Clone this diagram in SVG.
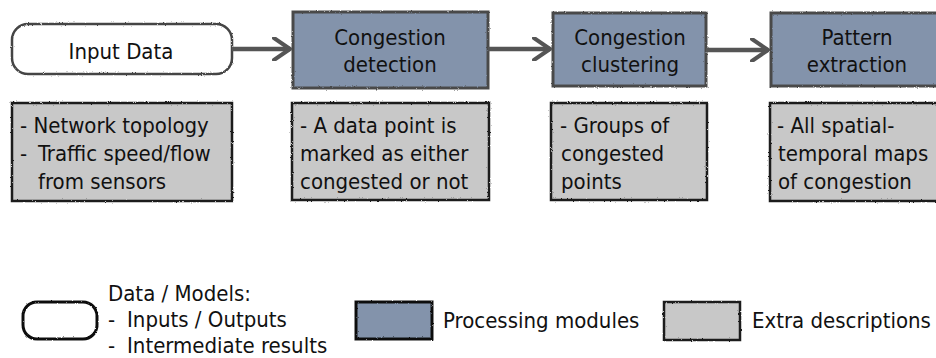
<svg xmlns="http://www.w3.org/2000/svg" width="936" height="358" viewBox="0 0 936 358">
  <defs>
    <!-- slight hand-drawn wobble for outlines -->
    <filter id="rough" x="-5%" y="-5%" width="110%" height="110%">
      <feTurbulence type="fractalNoise" baseFrequency="0.8" numOctaves="2" seed="3" result="n"/>
      <feDisplacementMap in="SourceGraphic" in2="n" scale="2.2" xChannelSelector="R" yChannelSelector="G"/>
    </filter>
    <marker id="chev" viewBox="0 0 20 24" refX="18" refY="12" markerWidth="20" markerHeight="24" markerUnits="userSpaceOnUse" orient="auto">
      <path d="M2,1 L18,12 L2,23" fill="none" stroke="#555" stroke-width="4" stroke-linecap="round" stroke-linejoin="round"/>
    </marker>
  </defs>
  <style>
    text { font-family: "DejaVu Sans Condensed", "DejaVu Sans", Verdana, sans-serif; font-stretch: condensed; font-size: 22px; fill: #111; }
    .c { text-anchor: middle; }
    .data { fill: #fff; stroke: #444; stroke-width: 2.5; }
    .proc { fill: #8393ab; stroke: #4a4a4a; stroke-width: 3; }
    .desc { fill: #c8c8c8; stroke: #1a1a1a; stroke-width: 2.5; }
    .lg-data { fill: #fff; stroke: #111; stroke-width: 3; }
    .lg-proc { fill: #8393ab; stroke: #111; stroke-width: 3; }
    .link { fill: none; stroke: #555; stroke-width: 4.5; marker-end: url(#chev); }
  </style>

  <rect width="936" height="358" fill="#fff"/>

  <!-- pipeline stages -->
  <g id="input-data">
    <rect class="data" x="12" y="24" width="220" height="50" rx="16" filter="url(#rough)"/>
    <text class="c" x="121" y="59">Input Data</text>
  </g>
  <g id="congestion-detection">
    <rect class="proc" x="293" y="12" width="195" height="76" filter="url(#rough)"/>
    <text class="c" x="390" y="45">Congestion</text>
    <text class="c" x="390" y="72">detection</text>
  </g>
  <g id="congestion-clustering">
    <rect class="proc" x="553" y="13" width="153" height="73" filter="url(#rough)"/>
    <text class="c" x="630" y="45">Congestion</text>
    <text class="c" x="630" y="72">clustering</text>
  </g>
  <g id="pattern-extraction">
    <rect class="proc" x="771" y="13" width="175" height="73" filter="url(#rough)"/>
    <text class="c" x="857" y="45">Pattern</text>
    <text class="c" x="857" y="72">extraction</text>
  </g>

  <!-- stage descriptions -->
  <g id="desc-input">
    <rect class="desc" x="12" y="103" width="220" height="98" filter="url(#rough)"/>
    <text x="20" y="133">- Network topology</text>
    <text x="20" y="161">-</text>
    <text x="38" y="161">Traffic speed/flow</text>
    <text x="38" y="189">from sensors</text>
  </g>
  <g id="desc-detection">
    <rect class="desc" x="292" y="103" width="197" height="97" filter="url(#rough)"/>
    <text x="300" y="133">- A data point is</text>
    <text x="300" y="161">marked as either</text>
    <text x="300" y="189">congested or not</text>
  </g>
  <g id="desc-clustering">
    <rect class="desc" x="551" y="103" width="156" height="97" filter="url(#rough)"/>
    <text x="560" y="133">- Groups of</text>
    <text x="561" y="161">congested</text>
    <text x="561" y="189">points</text>
  </g>
  <g id="desc-extraction">
    <rect class="desc" x="770" y="103" width="176" height="98" filter="url(#rough)"/>
    <text x="777" y="133">- All spatial-</text>
    <text x="778" y="161">temporal maps</text>
    <text x="778" y="189">of congestion</text>
  </g>

  <!-- connectors -->
  <g id="connectors">
    <line class="link" x1="232" y1="49" x2="290" y2="49"/>
    <line class="link" x1="488" y1="49" x2="550" y2="49"/>
    <line class="link" x1="706" y1="50" x2="768" y2="50"/>
  </g>

  <!-- legend -->
  <g id="legend-data">
    <rect class="lg-data" x="23" y="302" width="74" height="37" rx="14" filter="url(#rough)"/>
    <text x="108" y="301">Data / Models:</text>
    <text x="108" y="327">-</text>
    <text x="127" y="327">Inputs / Outputs</text>
    <text x="108" y="353">-</text>
    <text x="127" y="353">Intermediate results</text>
  </g>
  <g id="legend-processing">
    <rect class="lg-proc" x="356" y="302" width="76" height="37" filter="url(#rough)"/>
    <text x="443" y="328">Processing modules</text>
  </g>
  <g id="legend-description">
    <rect class="desc" x="664" y="302" width="76" height="38" filter="url(#rough)"/>
    <text x="752" y="328">Extra descriptions</text>
  </g>
</svg>
